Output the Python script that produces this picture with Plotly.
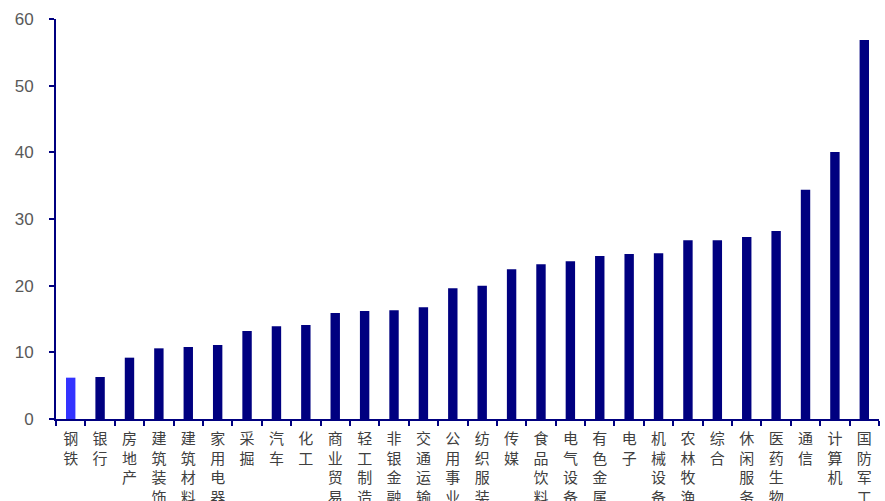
import plotly.graph_objects as go

categories = ["钢铁", "银行", "房地产", "建筑装饰", "建筑材料", "家用电器", "采掘", "汽车", "化工",
              "商业贸易", "轻工制造", "非银金融", "交通运输", "公用事业", "纺织服装", "传媒", "食品饮料",
              "电气设备", "有色金属", "电子", "机械设备", "农林牧渔", "综合", "休闲服务", "医药生物",
              "通信", "计算机", "国防军工"]
values = [6.2, 6.3, 9.2, 10.6, 10.8, 11.1, 13.2, 13.9, 14.1, 15.9, 16.2, 16.3, 16.75, 19.6, 20.0,
          22.45, 23.2, 23.65, 24.45, 24.75, 24.85, 26.8, 26.8, 27.3, 28.2, 34.4, 40.05, 56.85]
y_ticks = [0, 10, 20, 30, 40, 50, 60]

colors = ["#3333FF"] + ["#000080"] * (len(categories) - 1)
tick_text = ["<br>".join(list(c)) for c in categories]

fig = go.Figure(go.Bar(x=categories, y=values, marker=dict(color=colors, line=dict(width=0))))

fig.update_layout(
    width=885, height=501,
    margin=dict(l=56, r=6, t=19, b=82),
    paper_bgcolor="white", plot_bgcolor="white",
    bargap=0.68, showlegend=False,
    font=dict(family="Arial, Liberation Sans, sans-serif"),
)
fig.update_xaxes(
    tickmode="array", tickvals=categories, ticktext=tick_text,
    tickson="boundaries", ticks="outside", ticklen=5, tickcolor="#000080", tickwidth=2,
    showline=True, linecolor="#000080", linewidth=2,
    tickfont=dict(family="Noto Sans CJK SC", size=15, color="#404040"),
    tickangle=0, showgrid=False, ticklabelstandoff=5, automargin=False,
)
fig.update_yaxes(
    range=[0, 60], tickvals=y_ticks, ticks="outside", ticklen=5, tickcolor="#000080", tickwidth=2,
    showline=True, linecolor="#000080", linewidth=2, showgrid=False, zeroline=False,
    tickfont=dict(family="Arial, Liberation Sans, sans-serif", size=17, color="#595959"),
    ticklabelstandoff=12, automargin=False,
)

fig.write_html("out.html")
